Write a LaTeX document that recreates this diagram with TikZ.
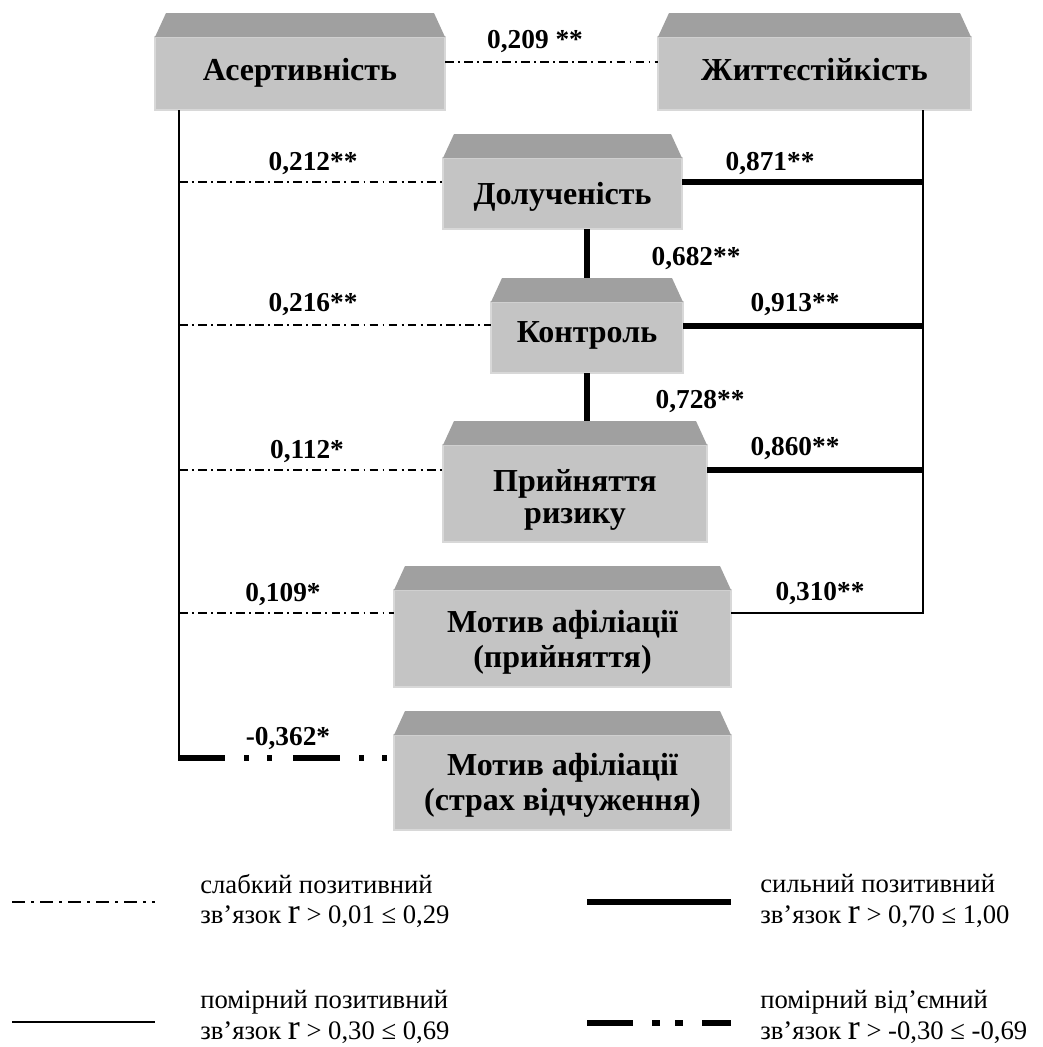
\documentclass[tikz,border=0pt]{standalone}
\usepackage{fontspec}
\setmainfont{Liberation Serif}
\definecolor{facegray}{HTML}{C4C4C4}
\definecolor{topgray}{HTML}{A0A0A0}
\definecolor{rimgray}{HTML}{D8D8D8}
\tikzset{
  x=0.75pt, y=-0.75pt,
  face/.style={fill=facegray, draw=rimgray, line width=1pt, inner sep=0pt, outer sep=0pt},
  boxtxt/.style={font=\bfseries\fontsize{24}{28}\selectfont, inner sep=0pt, anchor=base},
  weak/.style={line width=1.1pt, dash pattern=on 6.5pt off 3.2pt on 1.4pt off 3.2pt},
  moderate/.style={line width=1.4pt},
  strong/.style={line width=4.5pt},
  negmod/.style={line width=4.5pt,
    dash pattern=on 35.25pt off 14.25pt on 3.75pt off 13.5pt on 3.75pt off 15.75pt},
  legweak/.style={line width=1.2pt, dash pattern=on 10pt off 4.5pt on 2pt off 4.5pt},
  legneg/.style={line width=4.5pt,
    dash pattern=on 34.5pt off 14.25pt on 6pt off 11.25pt on 6pt off 14.25pt},
  val/.style={font=\bfseries\fontsize{20.5}{24}\selectfont, inner sep=0pt, anchor=base},
  leg/.style={font=\fontsize{20}{23}\selectfont, inner sep=0pt, anchor=west, align=left},
}
% front face as a node, slanted top face drawn above it
\newcommand\bevbox[5]{%
  \node[face, minimum width=#4*0.75pt, minimum height=#5*0.75pt] (#1) at (#2,#3) {};
  \fill[topgray] (#1.north west) -- (#1.north east)
    -- ([xshift=-8.25pt,yshift=18pt]#1.north east)
    -- ([xshift=8.25pt,yshift=18pt]#1.north west) -- cycle;
}
\newcommand\corrr{{\fontsize{27}{23}\selectfont r}}
\begin{document}
\begin{tikzpicture}
\useasboundingbox (0,0) rectangle (1043,1047);

% boxes
\bevbox{A}{300}{73.5}{290}{73}
\bevbox{Zh}{814.5}{73.5}{313}{73}
\bevbox{D}{562.5}{193.5}{239}{71}
\bevbox{K}{587}{337.5}{192}{71}
\bevbox{P}{575}{493.5}{264}{97}
\bevbox{M1}{562.5}{638.5}{337}{97}
\bevbox{M2}{562.5}{782.5}{337}{95}

% box captions
\node[boxtxt] (A-t) at (300,80) {Асертивність};
\node[boxtxt] (Zh-t) at (814.5,80) {Життєстійкість};
\node[boxtxt] (D-t) at (562.5,204) {Долученість};
\node[boxtxt] (K-t) at (587,342) {Контроль};
\node[boxtxt] (P-t1) at (575,491) {Прийняття};
\node[boxtxt] (P-t2) at (575,523) {ризику};
\node[boxtxt] (M1-t1) at (562.5,632) {Мотив афіліації};
\node[boxtxt] (M1-t2) at (562.5,667) {(прийняття)};
\node[boxtxt] (M2-t1) at (562.5,775) {Мотив афіліації};
\node[boxtxt] (M2-t2) at (562.5,810) {(страх відчуження)};

% junction points on the two vertical trunks
\coordinate (t1) at (445,62);
\coordinate (Ltop) at (179,110);
\coordinate (Lcorner) at (179,758);
\coordinate (l1) at (179,182);
\coordinate (l2) at (179,325);
\coordinate (l3) at (179,470);
\coordinate (l4) at (179,613);
\coordinate (Rtop) at (923,110);
\coordinate (r1) at (923,182);
\coordinate (r2) at (923,326);
\coordinate (r3) at (923,470);
\coordinate (r4) at (923,613);

% connectors
\draw[weak] (t1 -| A.east) -- (t1 -| Zh.west);
\draw[moderate] (A.south -| Ltop) -- (Lcorner);
\draw[weak] (l1) -- (l1 -| D.west);
\draw[weak] (l2) -- (l2 -| K.west);
\draw[weak] (l3) -- (l3 -| P.west);
\draw[weak] (l4) -- (l4 -| M1.west);
\draw[negmod] ([xshift=-0.75pt]Lcorner) -- (Lcorner -| M2.west);

\draw[moderate] (Zh.south -| Rtop) -- (r4) -- (r4 -| M1.east);
\draw[strong] (r1 -| D.east) -- (r1);
\draw[strong] (r2 -| K.east) -- (r2);
\draw[strong] (r3 -| P.east) -- (r3);
\draw[strong] (D.south -| K.north) -- ([yshift=18pt]K.north);
\draw[strong] (K.south) -- ([yshift=18pt]K.south |- P.north);

% coefficients
\node[val] (c1) at (535,48) {0,209 **};
\node[val] (c2) at (313,170) {0,212**};
\node[val] (c3) at (770,170) {0,871**};
\node[val] (c4) at (696,265) {0,682**};
\node[val] (c5) at (313,311) {0,216**};
\node[val] (c6) at (795,311) {0,913**};
\node[val] (c7) at (700,408) {0,728**};
\node[val] (c8) at (307,458) {0,112*};
\node[val] (c9) at (795,455) {0,860**};
\node[val] (c10) at (283,601) {0,109*};
\node[val] (c11) at (820,600) {0,310**};
\node[val] (c12) at (288,745) {-0,362*};

% legend
\coordinate (g1a) at (12,902);  \coordinate (g1b) at (155,902);
\coordinate (g2a) at (12,1022); \coordinate (g2b) at (155,1022);
\coordinate (g3a) at (587,902); \coordinate (g3b) at (731,902);
\coordinate (g4a) at (587,1023); \coordinate (g4b) at (731,1023);
\draw[legweak] (g1a) -- (g1b);
\draw[moderate] (g2a) -- (g2b);
\draw[strong] (g3a) -- (g3b);
\draw[legneg] (g4a) -- (g4b);

\node[leg] (t1) at (200,901) {слабкий позитивний\\зв’язок \corrr{} > 0,01 ≤ 0,29};
\node[leg] (t2) at (200,1017) {помірний позитивний\\зв’язок \corrr{} > 0,30 ≤ 0,69};
\node[leg] (t3) at (760,901) {сильний позитивний\\зв’язок \corrr{} > 0,70 ≤ 1,00};
\node[leg] (t4) at (760,1017) {помірний від’ємний\\зв’язок \corrr{} > -0,30 ≤ -0,69};
\end{tikzpicture}
\end{document}
